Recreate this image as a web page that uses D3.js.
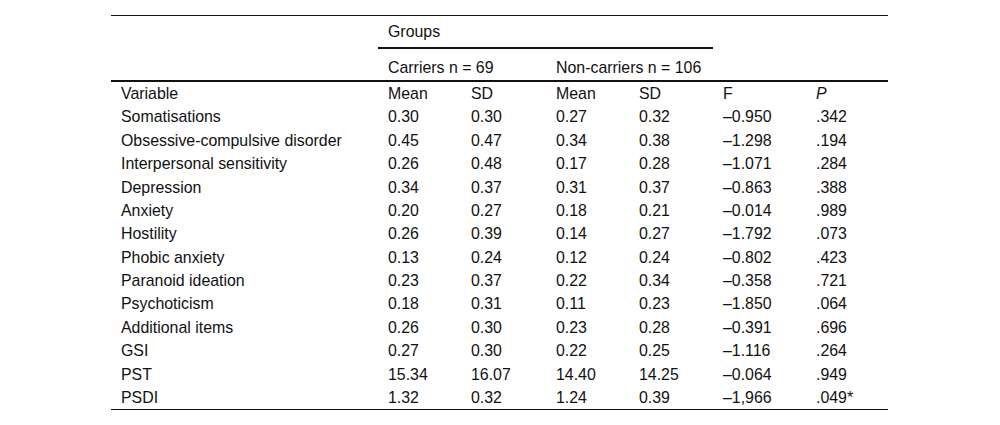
<!DOCTYPE html>
<html>
<head>
<meta charset="utf-8">
<script src="https://cdn.jsdelivr.net/npm/d3@7"></script>
<style>
  body { margin: 0; background: #fff; }
  svg text { font-family: "Liberation Sans", Arial, sans-serif; font-size: 15.9px; fill: #111; }
</style>
</head>
<body>
<svg id="table" width="1000" height="425"></svg>
<script>
const variables = ["Somatisations", "Obsessive-compulsive disorder", "Interpersonal sensitivity", "Depression", "Anxiety", "Hostility", "Phobic anxiety", "Paranoid ideation", "Psychoticism", "Additional items", "GSI", "PST", "PSDI"];
const carrierMean = ["0.30", "0.45", "0.26", "0.34", "0.20", "0.26", "0.13", "0.23", "0.18", "0.26", "0.27", "15.34", "1.32"];
const carrierSD = ["0.30", "0.47", "0.48", "0.37", "0.27", "0.39", "0.24", "0.37", "0.31", "0.30", "0.30", "16.07", "0.32"];
const nonMean = ["0.27", "0.34", "0.17", "0.31", "0.18", "0.14", "0.12", "0.22", "0.11", "0.23", "0.22", "14.40", "1.24"];
const nonSD = ["0.32", "0.38", "0.28", "0.37", "0.21", "0.27", "0.24", "0.34", "0.23", "0.28", "0.25", "14.25", "0.39"];
const fValues = ["\u20130.950", "\u20131.298", "\u20131.071", "\u20130.863", "\u20130.014", "\u20131.792", "\u20130.802", "\u20130.358", "\u20131.850", "\u20130.391", "\u20131.116", "\u20130.064", "\u20131,966"];
const pValues = [".342", ".194", ".284", ".388", ".989", ".073", ".423", ".721", ".064", ".696", ".264", ".949", ".049*"];
const columns = ["Variable", "Mean", "SD", "Mean", "SD", "F", "P"];

const svg = d3.select("#table");

// column positions
const x = d3.scaleOrdinal().domain(d3.range(7)).range([121, 388, 471, 556, 639, 723, 816]);
// row baselines: header row + 13 data rows
const y = d3.scalePoint().domain(d3.range(14)).range([99, 403]);

// rules
const rules = [
  {x1: 111, x2: 888, y: 15.5, w: 1},
  {x1: 378, x2: 713, y: 48, w: 2},
  {x1: 111, x2: 888, y: 81, w: 2},
  {x1: 111, x2: 888, y: 409.5, w: 1}
];
svg.selectAll("line.rule").data(rules).join("line")
  .attr("x1", d => d.x1).attr("x2", d => d.x2)
  .attr("y1", d => d.y).attr("y2", d => d.y)
  .attr("stroke", "#111").attr("stroke-width", d => d.w);

// group headers
svg.append("text").attr("x", x(1)).attr("y", 37).text("Groups");
svg.append("text").attr("x", x(1)).attr("y", 73).text("Carriers n = 69");
svg.append("text").attr("x", x(3)).attr("y", 73).text("Non-carriers n = 106");

// column header row
svg.selectAll("text.col").data(columns).join("text")
  .attr("class", "col")
  .attr("x", (d, i) => x(i)).attr("y", y(0))
  .style("font-style", (d, i) => i === 6 ? "italic" : null)
  .text(d => d);

// body rows
const rows = variables.map((v, i) => [v, carrierMean[i], carrierSD[i], nonMean[i], nonSD[i], fValues[i], pValues[i]]);
const g = svg.selectAll("g.row").data(rows).join("g")
  .attr("class", "row")
  .attr("transform", (d, i) => `translate(0,${y(i + 1)})`);
g.selectAll("text").data(d => d).join("text")
  .attr("x", (d, i) => x(i))
  .text(d => d);
</script>
</body>
</html>
